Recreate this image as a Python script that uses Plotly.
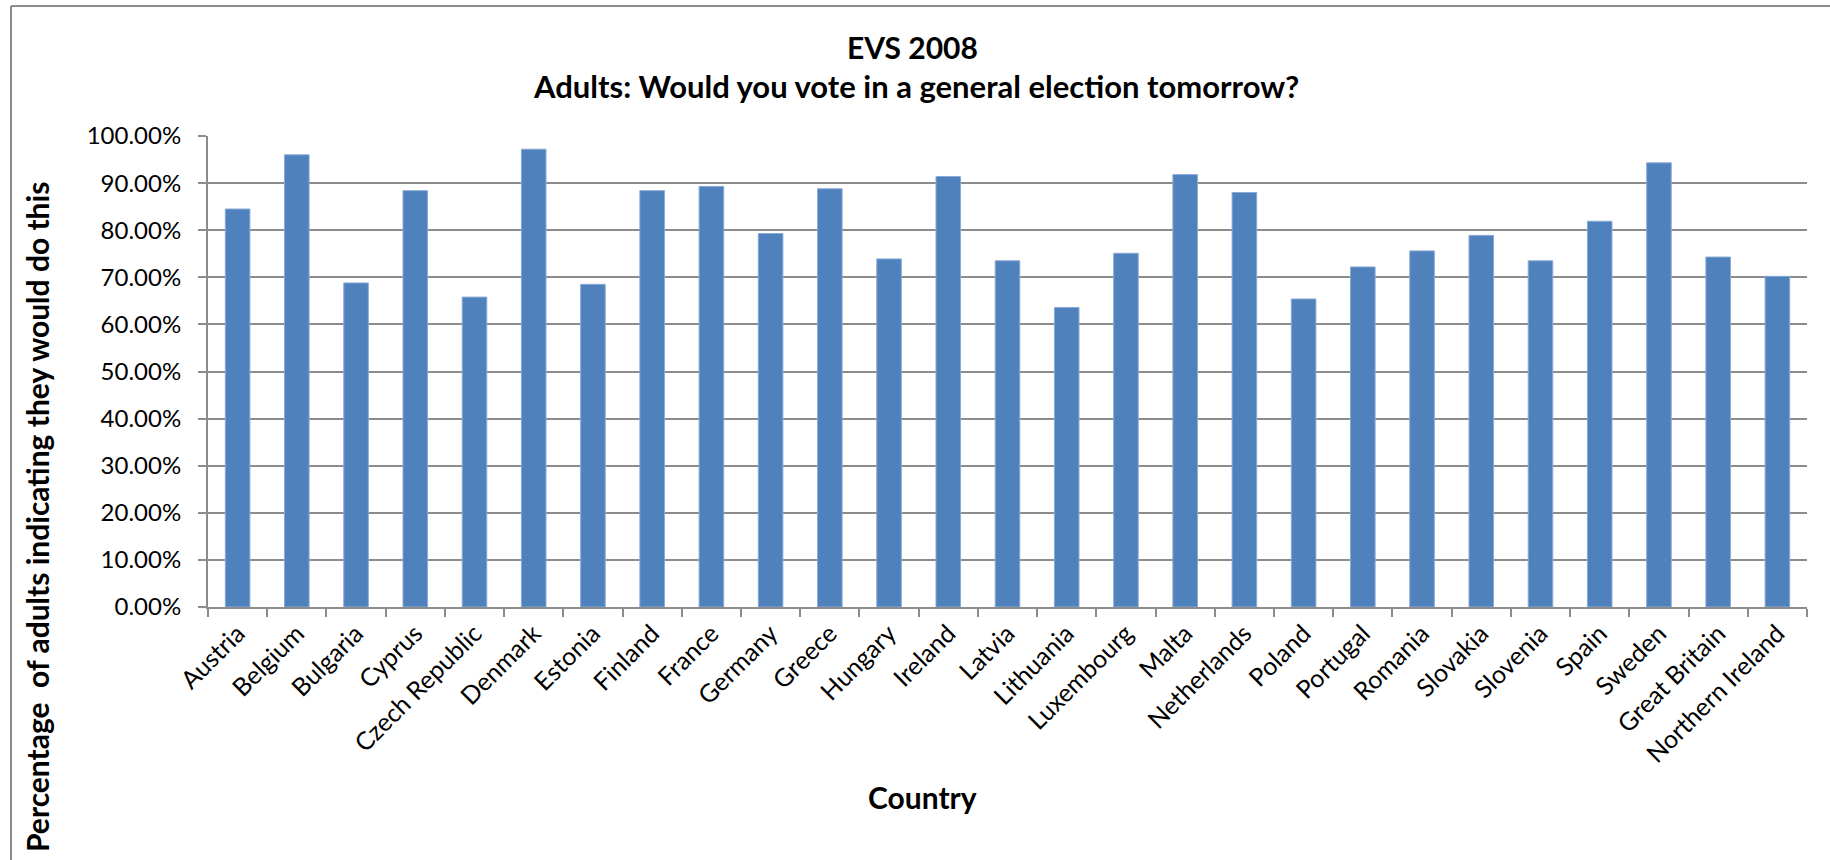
import plotly.graph_objects as go

countries = ["Austria", "Belgium", "Bulgaria", "Cyprus", "Czech Republic", "Denmark",
             "Estonia", "Finland", "France", "Germany", "Greece", "Hungary", "Ireland",
             "Latvia", "Lithuania", "Luxembourg", "Malta", "Netherlands", "Poland",
             "Portugal", "Romania", "Slovakia", "Slovenia", "Spain", "Sweden",
             "Great Britain", "Northern Ireland"]
vote_pct = [84.5, 96.0, 68.8, 88.4, 65.8, 97.2,
            68.5, 88.4, 89.3, 79.3, 88.8, 73.9, 91.4,
            73.5, 63.6, 75.1, 91.8, 88.0, 65.4,
            72.2, 75.6, 78.9, 73.5, 81.9, 94.3,
            74.3, 70.2]
y_ticks = [0, 10, 20, 30, 40, 50, 60, 70, 80, 90, 100]

W, H = 1830, 860
L, R, T, B = 208, 23, 136, 253
PW = W - L - R
PH = H - T - B

def px_x(px):
    return (px - L) / PW

def px_y(py):
    return (H - B - py) / PH

FONT = "Lato"

fig = go.Figure()
fig.add_trace(go.Bar(
    x=countries, y=vote_pct,
    marker=dict(color="#4F81BD", line=dict(color="#8AAAD6", width=1)),
    hoverinfo="x+y",
))

fig.update_layout(
    width=W, height=H,
    margin=dict(l=L, r=R, t=T, b=B, pad=0, autoexpand=False),
    paper_bgcolor="white", plot_bgcolor="white",
    bargap=0.585,
    showlegend=False,
    font=dict(family=FONT, color="black"),
    xaxis=dict(
        type="category",
        automargin=False,
        tickangle=-45,
        tickfont=dict(family=FONT, size=25, color="black"),
        showline=True, linecolor="#8c8c8c", linewidth=2,
        ticks="outside", ticklen=8, tickcolor="#8c8c8c", tickwidth=2,
        tickson="boundaries",
        showgrid=False,
    ),
    yaxis=dict(
        automargin=False,
        range=[0, 100],
        tickvals=y_ticks,
        ticktext=[f"{v:.2f}%" for v in y_ticks],
        tickfont=dict(family=FONT, size=24, color="black"),
        ticklabelstandoff=12,
        showline=True, linecolor="#8c8c8c", linewidth=2,
        ticks="outside", ticklen=8, tickcolor="#8c8c8c", tickwidth=2,
        showgrid=True, gridcolor="#8c8c8c", gridwidth=2,
        zeroline=False,
    ),
)

annotations = [
    dict(text="<b>EVS 2008</b>", x=px_x(912), y=px_y(47), xref="paper", yref="paper",
         xanchor="center", yanchor="middle", showarrow=False,
         font=dict(family=FONT, size=30, color="black")),
    dict(text="<b>Adults: Would you vote in a general election tomorrow?</b>",
         x=px_x(916), y=px_y(86), xref="paper", yref="paper",
         xanchor="center", yanchor="middle", showarrow=False,
         font=dict(family=FONT, size=31, color="black")),
    dict(text="<b>Country</b>", x=px_x(922), y=px_y(797), xref="paper", yref="paper",
         xanchor="center", yanchor="middle", showarrow=False,
         font=dict(family=FONT, size=30, color="black")),
    dict(text="<b>Percentage  of adults indicating they would do this</b>",
         x=px_x(37), y=px_y(180), xref="paper", yref="paper",
         xanchor="center", yanchor="top", textangle=-90, showarrow=False,
         font=dict(family=FONT, size=30, color="black")),
]
fig.update_layout(annotations=annotations)

shapes = [
    dict(type="line", xref="paper", yref="paper",
         x0=px_x(11), x1=px_x(W + 5), y0=px_y(6), y1=px_y(6),
         line=dict(color="#8c8c8c", width=2)),
    dict(type="line", xref="paper", yref="paper",
         x0=px_x(11), x1=px_x(11), y0=px_y(6), y1=px_y(H + 5),
         line=dict(color="#8c8c8c", width=2)),
]
fig.update_layout(shapes=shapes)

fig.write_html("out.html",
               config=dict(displayModeBar=False),
               post_script="document.body.style.margin='0px';document.body.style.overflow='hidden';")
